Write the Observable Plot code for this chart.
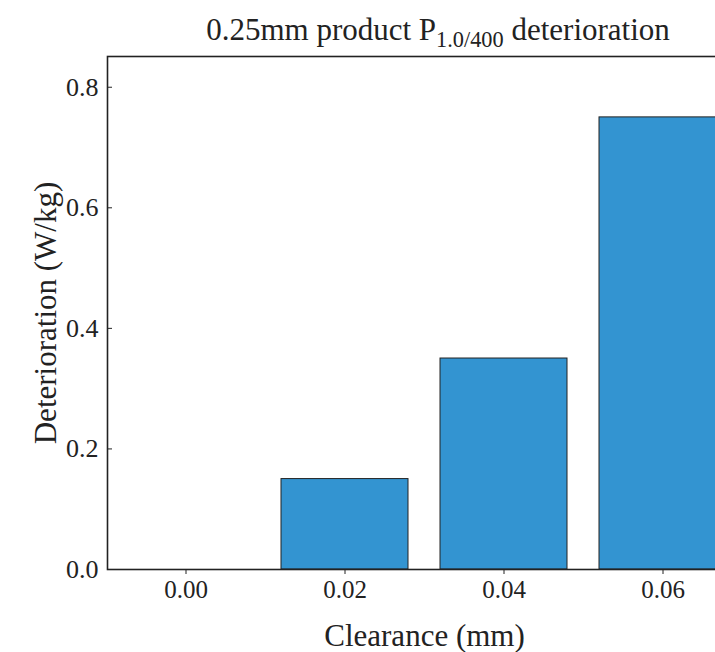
<!DOCTYPE html>
<html><head><meta charset="utf-8">
<script src="https://cdn.jsdelivr.net/npm/d3@7"></script>
<script src="https://cdn.jsdelivr.net/npm/@observablehq/plot@0.6"></script>
<style>
body{margin:0;background:#fff;overflow:hidden}
#wrap{position:relative;width:715px;height:652px;overflow:hidden;font-family:"Liberation Serif","Times New Roman",serif}
#title{position:absolute;left:0;width:876px;top:11px;text-align:center;font-size:31px;color:#222;line-height:1.2;white-space:nowrap}
#title sub{font-size:0.72em;vertical-align:-0.3em;line-height:0}
</style></head><body><div id="wrap"><div id="title">0.25mm product P<sub>1.0/400</sub> deterioration</div></div>
<script>
const clearance = ["0.00", "0.02", "0.04", "0.06"];
const deterioration = [0, 0.15, 0.35, 0.75];
const yTicks = [0, 0.2, 0.4, 0.6, 0.8];
const xLabel = "Clearance (mm)";
const yLabel = "Deterioration (W/kg)";

const data = clearance.map((c, i) => ({c, v: deterioration[i]}));
const font = "'Liberation Serif','Times New Roman',serif";

const chart = Plot.plot({
  width: 715,
  height: 652,
  marginTop: 56,
  marginBottom: 83,
  marginLeft: 107,
  marginRight: -26,
  style: {fontFamily: font, color: "#222", background: "white", overflow: "hidden"},
  x: {type: "band", domain: clearance, paddingInner: 0.2, paddingOuter: 0.09},
  y: {domain: [0, 0.851]},
  marks: [
    Plot.barY(data, {x: "c", y: "v", fill: "#3394d1", stroke: "#222", strokeWidth: 1}),
    Plot.axisX({tickSize: 5, tickPadding: 6, fontSize: 25, label: xLabel, labelAnchor: "center", labelArrow: "none", labelOffset: 76, stroke: "#222"}),
    Plot.axisY(yTicks, {tickSize: -5, tickPadding: 14, tickFormat: ".1f", fontSize: 26, label: yLabel, labelAnchor: "center", labelArrow: "none", labelOffset: 74, stroke: "#222"}),
    Plot.frame({stroke: "#222", strokeWidth: 1.6})
  ]
});
document.getElementById("wrap").prepend(chart);
// axis label font size
chart.querySelectorAll("g[aria-label='x-axis label'] text, g[aria-label='y-axis label'] text").forEach(t => t.setAttribute("font-size", 31));
</script>
</body></html>
